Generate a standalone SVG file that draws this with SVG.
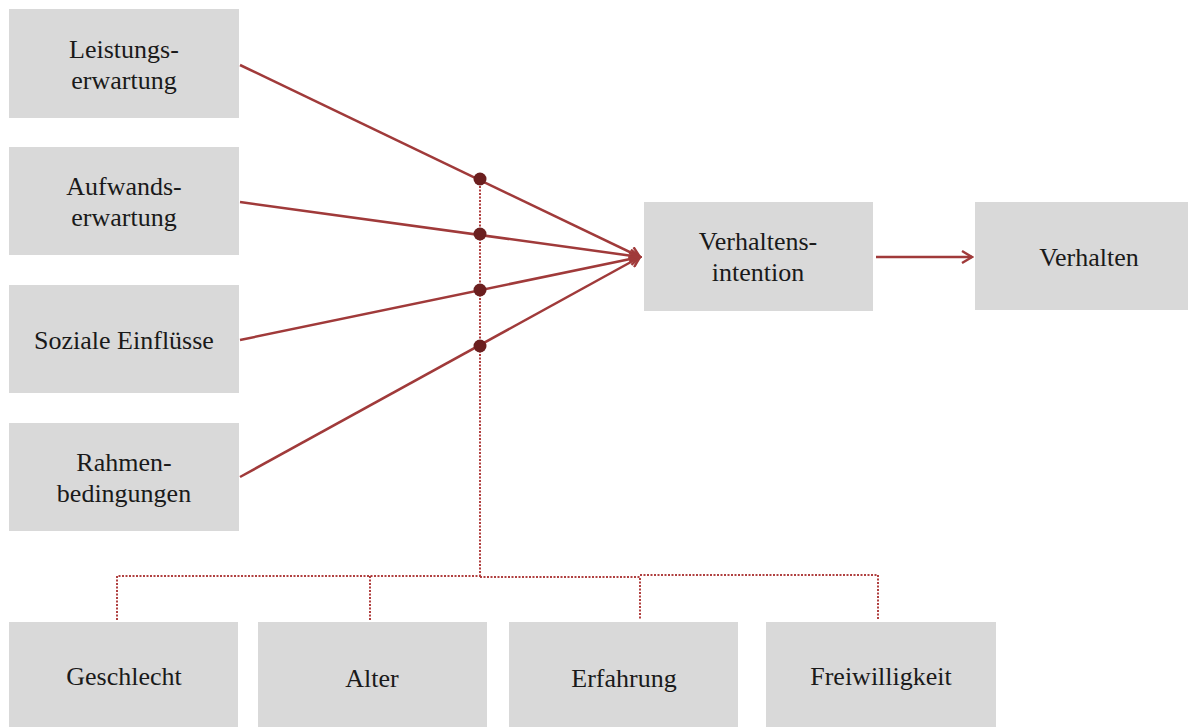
<svg xmlns="http://www.w3.org/2000/svg" width="1198" height="727" viewBox="0 0 1198 727">
<defs>
<style>
.box{fill:#d9d9d9}
.t{font-family:"Liberation Serif","Times New Roman",Times,serif;font-size:26px;fill:#1a1a1a;text-anchor:middle}
.ln{stroke:#a03a3a;stroke-width:2.5;fill:none}
.dt{stroke:#b04040;stroke-width:2;stroke-dasharray:2 1.5;fill:none}
.dot{fill:#6b1f1f}
</style>
<marker id="ah" markerWidth="14" markerHeight="14" refX="12" refY="7" orient="auto" markerUnits="userSpaceOnUse">
<path d="M2,1 L12,7 L2,13" fill="none" stroke="#a03a3a" stroke-width="2.4"/>
</marker>
</defs>
<g id="n1"><rect class="box" x="9" y="9" width="230" height="109"/><text class="t" x="124" y="58">Leistungs-</text><text class="t" x="124" y="89">erwartung</text></g>
<g id="n2"><rect class="box" x="9" y="147" width="230" height="108"/><text class="t" x="124" y="195">Aufwands-</text><text class="t" x="124" y="226">erwartung</text></g>
<g id="n3"><rect class="box" x="9" y="285" width="230" height="108"/><text class="t" x="124" y="349">Soziale Einflüsse</text></g>
<g id="n4"><rect class="box" x="9" y="423" width="230" height="108"/><text class="t" x="124" y="471">Rahmen-</text><text class="t" x="124" y="502">bedingungen</text></g>
<g id="n5"><rect class="box" x="644" y="202" width="229" height="109"/><text class="t" x="758" y="250">Verhaltens-</text><text class="t" x="758" y="281">intention</text></g>
<g id="n6"><rect class="box" x="975" y="202" width="213" height="108"/><text class="t" x="1089" y="266">Verhalten</text></g>
<g id="n7"><rect class="box" x="9" y="622" width="229" height="105"/><text class="t" x="124" y="685">Geschlecht</text></g>
<g id="n8"><rect class="box" x="258" y="622" width="229" height="105"/><text class="t" x="372" y="687">Alter</text></g>
<g id="n9"><rect class="box" x="509" y="622" width="229" height="105"/><text class="t" x="624" y="687">Erfahrung</text></g>
<g id="n10"><rect class="box" x="766" y="622" width="230" height="105"/><text class="t" x="881" y="685">Freiwilligkeit</text></g>
<g id="connectors">
<path class="dt" d="M480,179 V576"/>
<path class="dt" d="M117,620 V576 H480 M370,576 V620 M480,577 H640 V620 M640,575 H878 V620"/>
<line class="ln" x1="240" y1="65" x2="640" y2="257" marker-end="url(#ah)"/>
<line class="ln" x1="240" y1="202" x2="640" y2="257" marker-end="url(#ah)"/>
<line class="ln" x1="240" y1="340" x2="640" y2="257" marker-end="url(#ah)"/>
<line class="ln" x1="240" y1="477" x2="640" y2="257" marker-end="url(#ah)"/>
<line class="ln" x1="876" y1="257" x2="972" y2="257" marker-end="url(#ah)"/>
<circle class="dot" cx="480" cy="179" r="6.5"/>
<circle class="dot" cx="480" cy="234" r="6.5"/>
<circle class="dot" cx="480" cy="290" r="6.5"/>
<circle class="dot" cx="480" cy="346" r="6.5"/>
</g>
</svg>
